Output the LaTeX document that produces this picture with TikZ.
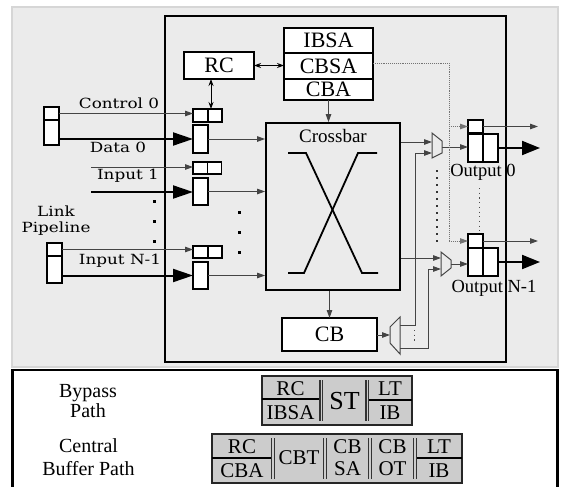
\documentclass[tikz,border=0pt]{standalone}
\usepackage{fontspec}
\setmainfont{Liberation Serif}
\newfontfamily\lblfont[FakeStretch=1.2]{DejaVu Serif}
\usetikzlibrary{arrows.meta,calc}
\definecolor{bg}{HTML}{EBEBEB}
\definecolor{bgline}{HTML}{D6D6D6}
\definecolor{tblfill}{HTML}{CCCCCC}
\definecolor{wire}{HTML}{444444}
\tikzset{
  bx/.style={draw, line width=1.4pt, fill=white, inner sep=0pt, outer sep=0pt},
  bigtxt/.style={font=\fontsize{22}{24}\selectfont},
  lbl/.style={font=\lblfont\fontsize{14}{16}\selectfont, inner sep=0pt},
  outl/.style={font=\fontsize{18.5}{20}\selectfont, inner sep=0pt},
  ctl/.style={draw=wire, line width=1pt, -{Triangle[length=8pt,width=5.5pt]}},
  dat/.style={draw=black, line width=2pt, -{Triangle[length=20pt,width=13pt]}},
  outarr/.style={draw=black, line width=2pt, -{Triangle[length=18pt,width=14pt]}},
  muxshape/.style={draw=wire, line width=1pt},
  dotarr/.style={draw=black!55, line width=0.9pt, densely dotted, -{Triangle[length=8pt,width=5.5pt]}},
  dblarr/.style={draw=black, line width=1pt, {Stealth[length=7pt,width=5pt]}-{Stealth[length=7pt,width=5pt]}},
  tbl/.style={draw=black!85, line width=1.5pt, fill=tblfill, inner sep=0pt},
  ttxt/.style={font=\fontsize{21}{22}\selectfont, inner sep=0pt},
  sq/.style={fill=black}
}
\begin{document}
\begin{tikzpicture}[x=1pt,y=-1pt]
\useasboundingbox (0,0) rectangle (562,487);
\fill[white] (0,0) rectangle (562,487);
% background panel and router boundary
\draw[draw=bgline, fill=bg, line width=1.5pt] (12,7) rectangle (558,367);
\draw[line width=1.6pt] (165,16) rectangle (506,362);

% allocators
\node[bx, bigtxt, minimum width=70pt, minimum height=27pt] (rc) at (219,65.5) {RC};
\node[bx, bigtxt, minimum width=89pt, minimum height=25pt] (ibsa) at (328.5,40.5) {IBSA};
\node[bx, bigtxt, minimum width=89pt, minimum height=26pt] (cbsa) at (328.5,66) {CBSA};
\node[bx, bigtxt, minimum width=89pt, minimum height=21pt] (cba) at (328.5,89.5) {CBA};

% link pipeline registers
\node[bx, minimum width=15pt, minimum height=13pt] (l0c) at (51.5,113.5) {};
\node[bx, minimum width=15pt, minimum height=25pt] (l0d) at (51.5,132.5) {};
\node[bx, minimum width=15pt, minimum height=13pt] (lNc) at (54.5,249.5) {};
\node[bx, minimum width=15pt, minimum height=27pt] (lNd) at (54.5,269.5) {};

% input buffers
\node[bx, minimum width=15pt, minimum height=13pt] (c0a) at (200.5,115.5) {};
\node[bx, minimum width=14pt, minimum height=13pt] (c0b) at (215,115.5) {};
\node[bx, minimum width=15pt, minimum height=28pt] (d0) at (200.5,139) {};
\node[bx, minimum width=15pt, minimum height=12pt] (c1a) at (200.5,168) {};
\node[bx, minimum width=14pt, minimum height=12pt] (c1b) at (214.5,168) {};
\node[bx, minimum width=15pt, minimum height=27pt] (d1) at (200.5,191.5) {};
\node[bx, minimum width=15pt, minimum height=12pt] (cNa) at (200.5,252) {};
\node[bx, minimum width=14pt, minimum height=12pt] (cNb) at (215,252) {};
\node[bx, minimum width=15pt, minimum height=27pt] (dN) at (200.5,275.5) {};

% crossbar
\node[draw, line width=1.8pt, inner sep=0pt, minimum width=134pt, minimum height=167pt] (xb) at (333,206.5) {};
\node[font=\fontsize{19}{20}\selectfont, inner sep=0pt] (xbl) at (333,136) {Crossbar};
\draw[line width=1.8pt] (288,153) -- (306,153) -- (362,273) -- (378,273);
\draw[line width=1.8pt] (377,153) -- (358,153) -- (304,273) -- (288,273);

% central buffer
\node[bx, bigtxt, minimum width=95pt, minimum height=33pt] (cb) at (329.5,334.5) {CB};

% output buffers
\node[bx, minimum width=15pt, minimum height=13pt] (o0c) at (475.5,126.5) {};
\node[bx, minimum width=15pt, minimum height=28pt] (o0a) at (475.5,148) {};
\node[bx, minimum width=15pt, minimum height=28pt] (o0b) at (490.5,148) {};
\node[bx, minimum width=15pt, minimum height=14pt] (oNc) at (475.5,241) {};
\node[bx, minimum width=15pt, minimum height=28pt] (oNa) at (475.5,262) {};
\node[bx, minimum width=15pt, minimum height=28pt] (oNb) at (490.5,262) {};

% muxes
\draw[muxshape] (432,133) -- (442,141) -- (442,153) -- (432,158) -- cycle;
\coordinate (m0i1) at (432,142);
\coordinate (m0i2) at (432,153);
\coordinate (m0o) at (442,147);
\draw[muxshape] (441,252) -- (451,260) -- (451,268) -- (441,276) -- cycle;
\coordinate (mNi1) at (441,258);
\coordinate (mNi2) at (441,269);
\coordinate (mNo) at (451,264);
\draw[muxshape] (390,327) -- (400,317) -- (400,354) -- (390,343) -- cycle;
\coordinate (dmi) at (390,335);
\coordinate (dmo1) at (400,325);
\coordinate (dmo2) at (400,348);
\coordinate (v1) at (415,0);
\coordinate (v2) at (428,0);

% free ends
\coordinate (c1s) at (91,167);
\coordinate (d1s) at (91,192);
\coordinate (o0ce) at (538,126.5);
\coordinate (o0de) at (540,148);
\coordinate (oNce) at (538,241);
\coordinate (oNde) at (540,262);
\coordinate (dtop) at (449,63);

% input side connectors
\draw[ctl] (l0c.east) -- (l0c.east -| c0a.west);
\draw[dat] (l0d.east |- d0.west) -- (d0.west);
\draw[ctl] (c1s) -- (c1s -| c1a.west);
\draw[dat] (d1s) -- (d1s -| d1.west);
\draw[ctl] (lNc.east) -- (lNc.east -| cNa.west);
\draw[dat] (lNd.east |- dN.west) -- (dN.west);
\draw[ctl] (d0.east) -- (d0.east -| xb.west);
\draw[ctl] (d1.east) -- (d1.east -| xb.west);
\draw[ctl] (dN.east) -- (dN.east -| xb.west);

% allocator connectors
\draw[dblarr] (rc.east) -- (rc.east -| cbsa.west);
\draw[dblarr] ([xshift=3pt]c0a.north east) -- ([xshift=3pt]c0a.north east |- rc.south);
\draw[ctl] (cba.south) -- (cba.south |- xb.north);
\draw[ctl] (cb.north |- xb.south) -- (cb.north);

% crossbar to muxes
\draw[ctl] (xb.east |- m0i1) -- (m0i1);
\draw[ctl] (xb.east |- mNi1) -- (mNi1);
\draw[ctl] (cb.east |- dmi) -- (dmi);
\draw[ctl] (dmo1) -- (dmo1 -| v1) -- (v1 |- m0i2) -- (m0i2);
\draw[ctl] (dmo2) -- (dmo2 -| v2) -- (v2 |- mNi2) -- (mNi2);
\draw[ctl] (m0o) -- (m0o -| o0a.west);
\draw[ctl] (mNo) -- (mNo -| oNa.west);

% outputs
\draw[ctl] (o0c.east) -- (o0ce);
\draw[outarr] (o0b.east) -- (o0de);
\draw[ctl] (oNc.east) -- (oNce);
\draw[outarr] (oNb.east) -- (oNde);

% dotted switch-allocation line
\draw[draw=black!55, line width=0.9pt, densely dotted] ([yshift=3pt]cbsa.east) -- (dtop) -- (dtop |- oNc.west);
\draw[dotarr] (dtop |- oNc.west) -- (oNc.west);
\draw[dotarr] (dtop |- o0c.west) -- (o0c.west);

% dots
\foreach \yy in {201,221,241} \fill[sq] (152.5,\yy-1.5) rectangle ++(3,3);
\foreach \yy in {212,232,252} \fill[sq] (237.5,\yy-1.5) rectangle ++(3,3);
\draw[line width=2pt, dash pattern=on 2pt off 5pt, draw=black!80] (437,170) -- (437,243);
\draw[line width=1pt, dash pattern=on 1.2pt off 3.5pt, draw=black!70] (479,188) -- (479,231);
\draw[line width=1pt, dash pattern=on 1.2pt off 3.5pt, draw=black!70] (414,330) -- (414,344);

% labels
\node[lbl] (lc0) at (119,103) {Control 0};
\node[lbl] (ld0) at (118,147) {Data 0};
\node[lbl] (li1) at (128,176) {Input 1};
\node[lbl, align=center] (llp) at (56,221) {Link\\Pipeline};
\node[lbl] (liN) at (120,261) {Input N-1};
\node[outl] (lo0) at (483,172) {Output 0};
\node[outl] (loN) at (494,288) {Output N-1};

% lower panel
\draw[line width=2.5pt, fill=white] (12.5,370) rectangle (557.5,500);
\node[font=\fontsize{20}{19.5}\selectfont, align=center, inner sep=0pt] (bpl) at (88,401) {Bypass\\Path};
\node[font=\fontsize{20}{22.5}\selectfont, align=center, inner sep=0pt] (cbl) at (88.5,457) {Central\\Buffer Path};

% bypass pipeline
\node[tbl, minimum width=150pt, minimum height=49pt] (bp) at (337,400.5) {};
\draw[line width=1.5pt] (262,399) -- (319,399);
\draw[line width=1.5pt] (368,400) -- (412,400);
\foreach \xx in {320,366} {
  \draw[line width=1.6pt, draw=black!80] (\xx,380) -- (\xx,421);
  \draw[line width=0.8pt, draw=black!80] (\xx+2.6,380) -- (\xx+2.6,421);
}
\node[ttxt] (b1) at (290.5,389) {RC};
\node[ttxt] (b2) at (290.5,413) {IBSA};
\node[font=\fontsize{26}{28}\selectfont, inner sep=0pt] (b3) at (344.5,401) {ST};
\node[ttxt] (b4) at (390,389) {LT};
\node[ttxt] (b5) at (390,413) {IB};

% central buffer pipeline
\node[tbl, minimum width=250pt, minimum height=49pt] (cp) at (337,458.5) {};
\draw[line width=1.5pt] (212,458) -- (271,458);
\draw[line width=1.5pt] (416,458) -- (462,458);
\foreach \xx in {271.5,323.5,368.5,413.5} {
  \draw[line width=1.6pt, draw=black!80] (\xx,438) -- (\xx,479);
  \draw[line width=0.8pt, draw=black!80] (\xx+2.6,438) -- (\xx+2.6,479);
}
\node[ttxt] (p1) at (242,447) {RC};
\node[ttxt] (p2) at (242,471) {CBA};
\node[ttxt] (p3) at (299,458) {CBT};
\node[ttxt] (p4) at (347.5,447) {CB};
\node[ttxt] (p5) at (347.5,469) {SA};
\node[ttxt] (p6) at (392.5,447) {CB};
\node[ttxt] (p7) at (392.5,469) {OT};
\node[ttxt] (p8) at (439,447) {LT};
\node[ttxt] (p9) at (439,471) {IB};
\end{tikzpicture}
\end{document}
